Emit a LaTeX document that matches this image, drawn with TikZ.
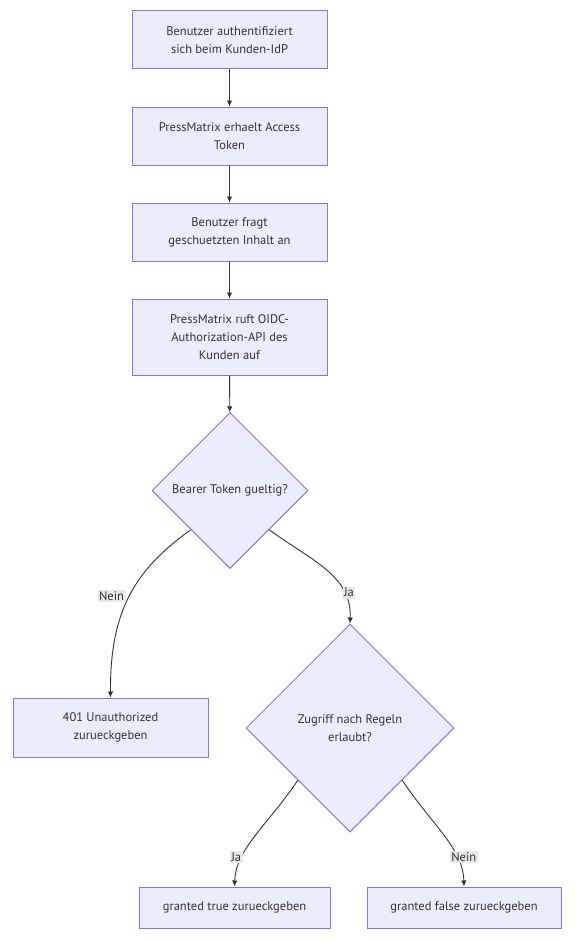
\documentclass[tikz,border=0pt]{standalone}
\usepackage{fontspec}
\setmainfont{PT Sans}
\usetikzlibrary{shapes.geometric,arrows.meta}
\definecolor{boxfill}{HTML}{ECECFF}
\definecolor{boxline}{HTML}{9370DB}
\definecolor{edgecol}{HTML}{333333}
\definecolor{labfill}{HTML}{E8E8E8}
\tikzset{
  txt/.style={text=edgecol,font=\fontsize{12.5}{18}\selectfont},
  stepbox/.style={txt,draw=boxline,fill=boxfill,line width=1pt,rectangle,align=center,minimum width=195pt,minimum height=58pt,inner sep=2pt},
  decide/.style={txt,draw=boxline,fill=boxfill,line width=1pt,diamond,aspect=1,align=center,inner sep=0pt},
  arr/.style={draw=edgecol,line width=0.9pt,-{Latex[length=6pt,width=5.5pt]}},
  elab/.style={txt,fill=labfill,inner sep=1.5pt},
}
\begin{document}
\begin{tikzpicture}[x=1pt,y=-1pt]
  \useasboundingbox (0,0) rectangle (575,942);
  \node[stepbox] (auth) at (229.5,40) {Benutzer authentifiziert\\sich beim Kunden-IdP};
  \node[stepbox] (token) at (229.5,136) {PressMatrix erhaelt Access\\Token};
  \node[stepbox] (ask) at (229.5,232) {Benutzer fragt\\geschuetzten Inhalt an};
  \node[stepbox,minimum height=76pt] (api) at (229.5,337) {PressMatrix ruft OIDC-\\Authorization-API des\\Kunden auf};
  \node[decide,minimum width=156pt,minimum height=156pt] (valid) at (230,490.5) {Bearer Token gueltig?};
  \node[stepbox,minimum height=59pt] (deny) at (110.5,727.5) {401 Unauthorized\\zurueckgeben};
  \node[decide,minimum width=208pt,minimum height=208pt] (rules) at (350,728) {Zugriff nach Regeln\\erlaubt?};
  \node[stepbox,minimum width=191pt,minimum height=41pt] (yes) at (234.5,907.5) {granted true zurueckgeben};
  \node[stepbox,minimum width=194pt,minimum height=41pt] (no) at (464,907.5) {granted false zurueckgeben};
  \draw[arr] (auth) -- (token);
  \draw[arr] (token) -- (ask);
  \draw[arr] (ask) -- (api);
  \draw[arr] (api) -- (valid);
  \draw[arr] (valid.south west) .. controls (135,570) and (110,610) .. (deny.north)
    node[elab,pos=0.5,xshift=-18pt] {Nein};
  \draw[arr] (valid.south east) .. controls (310,560) and (352,575) .. (rules.north)
    node[elab,pos=0.75,xshift=5pt] {Ja};
  \draw[arr] (rules.south west) .. controls (268,825) and (236,848) .. (yes.north)
    node[elab,pos=0.72,xshift=-6pt] {Ja};
  \draw[arr] (rules.south east) .. controls (432,825) and (463,848) .. (no.north)
    node[elab,pos=0.72,xshift=7pt] {Nein};
\end{tikzpicture}
\end{document}
